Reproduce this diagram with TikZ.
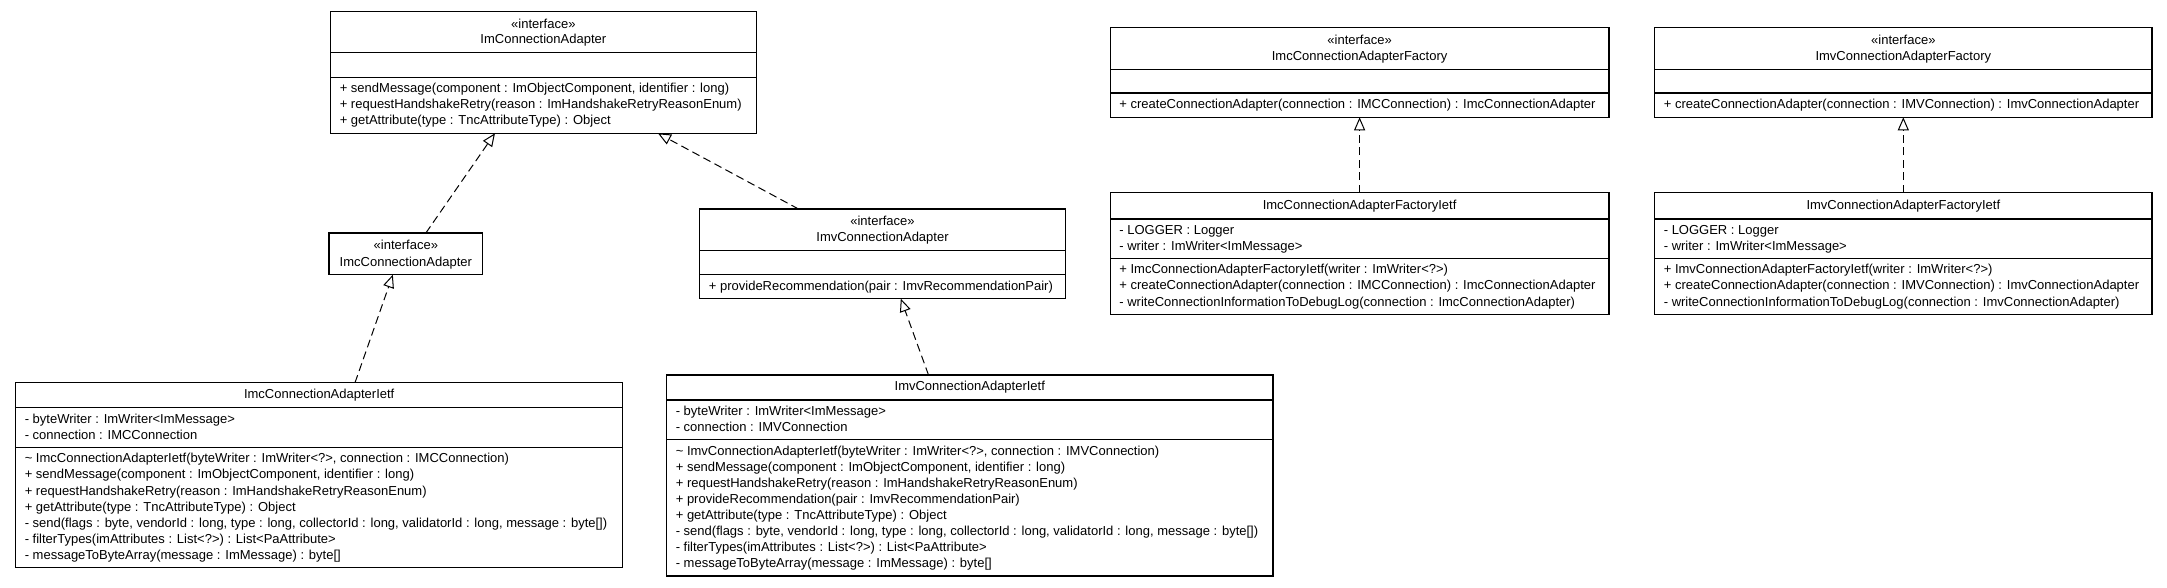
\documentclass[tikz,border=0pt]{standalone}
\usepackage{fontspec}
\setmainfont{Liberation Sans}
\usetikzlibrary{arrows.meta}
\begin{document}
\begin{tikzpicture}[x=1pt,y=-1pt,
  frame/.style={draw, line width=1.1pt, inner sep=0pt, outer sep=0pt, anchor=north west},
  sepline/.style={line width=1.4pt},
  ttl/.style={anchor=base, inner sep=0pt, font=\fontsize{13}{16}\selectfont},
  mem/.style={anchor=base west, inner sep=0pt, font=\fontsize{13}{16}\selectfont},
  impl/.style={line width=1pt, dash pattern=on 8pt off 4.5pt, -{Triangle[open, length=13pt, width=11pt, line width=1pt]}}
]
\useasboundingbox (0,0) rectangle (2167,587);

% ---------- ImConnectionAdapter ----------
\node[frame, minimum width=425.5pt, minimum height=121.6pt] (A) at (330.6,11.7) {};
\draw[sepline] ([yshift=-41pt]A.north west) -- ([yshift=-41pt]A.north east);
\draw[sepline] ([yshift=-65.6pt]A.north west) -- ([yshift=-65.6pt]A.north east);
\node[ttl] (As) at (543.35,28.5) {«interface»};
\node[ttl] (An) at (543.35,43.8) {ImConnectionAdapter};
\node[mem] (Am1) at (339.6,92.8) {+ sendMessage(component : ImObjectComponent, identifier : long)};
\node[mem] (Am2) at (339.6,108.5) {+ requestHandshakeRetry(reason : ImHandshakeRetryReasonEnum)};
\node[mem] (Am3) at (339.6,124.2) {+ getAttribute(type : TncAttributeType) : Object};

% ---------- ImcConnectionAdapter ----------
\node[frame, minimum width=153.7pt, minimum height=41.7pt] (B) at (329,233) {};
\node[ttl] (Bs) at (405.85,249.5) {«interface»};
\node[ttl] (Bn) at (405.85,266.2) {ImcConnectionAdapter};

% ---------- ImvConnectionAdapter ----------
\node[frame, minimum width=365.6pt, minimum height=89.7pt] (C) at (699.7,209) {};
\draw[sepline] ([yshift=-41.7pt]C.north west) -- ([yshift=-41.7pt]C.north east);
\draw[sepline] ([yshift=-65.7pt]C.north west) -- ([yshift=-65.7pt]C.north east);
\node[ttl] (Cs) at (882.5,225.2) {«interface»};
\node[ttl] (Cn) at (882.5,241.8) {ImvConnectionAdapter};
\node[mem] (Cm1) at (708.7,290.5) {+ provideRecommendation(pair : ImvRecommendationPair)};

% ---------- ImcConnectionAdapterIetf ----------
\node[frame, minimum width=607.2pt, minimum height=185pt] (D) at (15.6,382.7) {};
\draw[sepline] ([yshift=-25pt]D.north west) -- ([yshift=-25pt]D.north east);
\draw[sepline] ([yshift=-65pt]D.north west) -- ([yshift=-65pt]D.north east);
\node[ttl] (Dn) at (319.2,398.5) {ImcConnectionAdapterIetf};
\node[mem] (Da1) at (24.6,423.5) {- byteWriter : ImWriter<ImMessage>};
\node[mem] (Da2) at (24.6,439.5) {- connection : IMCConnection};
\node[mem] (Dm1) at (24.6,462.8) {\textasciitilde{} ImcConnectionAdapterIetf(byteWriter : ImWriter<?>, connection : IMCConnection)};
\node[mem] (Dm2) at (24.6,478.9) {+ sendMessage(component : ImObjectComponent, identifier : long)};
\node[mem] (Dm3) at (24.6,495.0) {+ requestHandshakeRetry(reason : ImHandshakeRetryReasonEnum)};
\node[mem] (Dm4) at (24.6,511.1) {+ getAttribute(type : TncAttributeType) : Object};
\node[mem] (Dm5) at (24.6,527.2) {- send(flags : byte, vendorId : long, type : long, collectorId : long, validatorId : long, message : byte[])};
\node[mem] (Dm6) at (24.6,543.3) {- filterTypes(imAttributes : List<?>) : List<PaAttribute>};
\node[mem] (Dm7) at (24.6,559.4) {- messageToByteArray(message : ImMessage) : byte[]};

% ---------- ImvConnectionAdapterIetf ----------
\node[frame, minimum width=606.4pt, minimum height=201pt] (E) at (666.6,375) {};
\draw[sepline] ([yshift=-25pt]E.north west) -- ([yshift=-25pt]E.north east);
\draw[sepline] ([yshift=-64.3pt]E.north west) -- ([yshift=-64.3pt]E.north east);
\node[ttl] (En) at (969.8,390.2) {ImvConnectionAdapterIetf};
\node[mem] (Ea1) at (675.6,415.2) {- byteWriter : ImWriter<ImMessage>};
\node[mem] (Ea2) at (675.6,431.2) {- connection : IMVConnection};
\node[mem] (Em1) at (675.6,455.2) {\textasciitilde{} ImvConnectionAdapterIetf(byteWriter : ImWriter<?>, connection : IMVConnection)};
\node[mem] (Em2) at (675.6,471.2) {+ sendMessage(component : ImObjectComponent, identifier : long)};
\node[mem] (Em3) at (675.6,487.2) {+ requestHandshakeRetry(reason : ImHandshakeRetryReasonEnum)};
\node[mem] (Em4) at (675.6,503.2) {+ provideRecommendation(pair : ImvRecommendationPair)};
\node[mem] (Em5) at (675.6,519.2) {+ getAttribute(type : TncAttributeType) : Object};
\node[mem] (Em6) at (675.6,535.2) {- send(flags : byte, vendorId : long, type : long, collectorId : long, validatorId : long, message : byte[])};
\node[mem] (Em7) at (675.6,551.2) {- filterTypes(imAttributes : List<?>) : List<PaAttribute>};
\node[mem] (Em8) at (675.6,567.2) {- messageToByteArray(message : ImMessage) : byte[]};

% ---------- ImcConnectionAdapterFactory ----------
\node[frame, minimum width=498.8pt, minimum height=89.6pt] (F) at (1110.2,27.7) {};
\draw[sepline] ([yshift=-41.6pt]F.north west) -- ([yshift=-41.6pt]F.north east);
\draw[sepline] ([yshift=-65.3pt]F.north west) -- ([yshift=-65.3pt]F.north east);
\node[ttl] (Fs) at (1359.6,44.5) {«interface»};
\node[ttl] (Fn) at (1359.6,60.5) {ImcConnectionAdapterFactory};
\node[mem] (Fm1) at (1119.2,108.5) {+ createConnectionAdapter(connection : IMCConnection) : ImcConnectionAdapter};

% ---------- ImvConnectionAdapterFactory ----------
\node[frame, minimum width=497.4pt, minimum height=89.6pt] (G) at (1654.6,27.7) {};
\draw[sepline] ([yshift=-41.6pt]G.north west) -- ([yshift=-41.6pt]G.north east);
\draw[sepline] ([yshift=-65.3pt]G.north west) -- ([yshift=-65.3pt]G.north east);
\node[ttl] (Gs) at (1903.3,44.5) {«interface»};
\node[ttl] (Gn) at (1903.3,60.5) {ImvConnectionAdapterFactory};
\node[mem] (Gm1) at (1663.6,108.5) {+ createConnectionAdapter(connection : IMVConnection) : ImvConnectionAdapter};

% ---------- ImcConnectionAdapterFactoryIetf ----------
\node[frame, minimum width=498.8pt, minimum height=121.6pt] (H) at (1110.2,192.7) {};
\draw[sepline] ([yshift=-26.3pt]H.north west) -- ([yshift=-26.3pt]H.north east);
\draw[sepline] ([yshift=-66pt]H.north west) -- ([yshift=-66pt]H.north east);
\node[ttl] (Hn) at (1359.6,209.2) {ImcConnectionAdapterFactoryIetf};
\node[mem] (Ha1) at (1119.2,234.5) {- LOGGER : Logger};
\node[mem] (Ha2) at (1119.2,250.5) {- writer : ImWriter<ImMessage>};
\node[mem] (Hm1) at (1119.2,273.8) {+ ImcConnectionAdapterFactoryIetf(writer : ImWriter<?>)};
\node[mem] (Hm2) at (1119.2,289.8) {+ createConnectionAdapter(connection : IMCConnection) : ImcConnectionAdapter};
\node[mem] (Hm3) at (1119.2,306.0) {- writeConnectionInformationToDebugLog(connection : ImcConnectionAdapter)};

% ---------- ImvConnectionAdapterFactoryIetf ----------
\node[frame, minimum width=497.4pt, minimum height=121.6pt] (I) at (1654.6,192.7) {};
\draw[sepline] ([yshift=-26.3pt]I.north west) -- ([yshift=-26.3pt]I.north east);
\draw[sepline] ([yshift=-66pt]I.north west) -- ([yshift=-66pt]I.north east);
\node[ttl] (In) at (1903.3,209.2) {ImvConnectionAdapterFactoryIetf};
\node[mem] (Ia1) at (1663.6,234.5) {- LOGGER : Logger};
\node[mem] (Ia2) at (1663.6,250.5) {- writer : ImWriter<ImMessage>};
\node[mem] (Im1) at (1663.6,273.8) {+ ImvConnectionAdapterFactoryIetf(writer : ImWriter<?>)};
\node[mem] (Im2) at (1663.6,289.8) {+ createConnectionAdapter(connection : IMVConnection) : ImvConnectionAdapter};
\node[mem] (Im3) at (1663.6,306.0) {- writeConnectionInformationToDebugLog(connection : ImvConnectionAdapter)};

% ---------- realizations ----------
\draw[impl] ([xshift=20pt]B.north) -- ([xshift=-48.4pt]A.south);
\draw[impl] ([xshift=-84pt]C.north) -- ([xshift=114.6pt]A.south);
\draw[impl] ([xshift=35.8pt]D.north) -- ([xshift=-13pt]B.south);
\draw[impl] ([xshift=-41.3pt]E.north) -- ([xshift=18.3pt]C.south);
\draw[impl] (H.north) -- (F.south);
\draw[impl] (I.north) -- (G.south);
\end{tikzpicture}
\end{document}
